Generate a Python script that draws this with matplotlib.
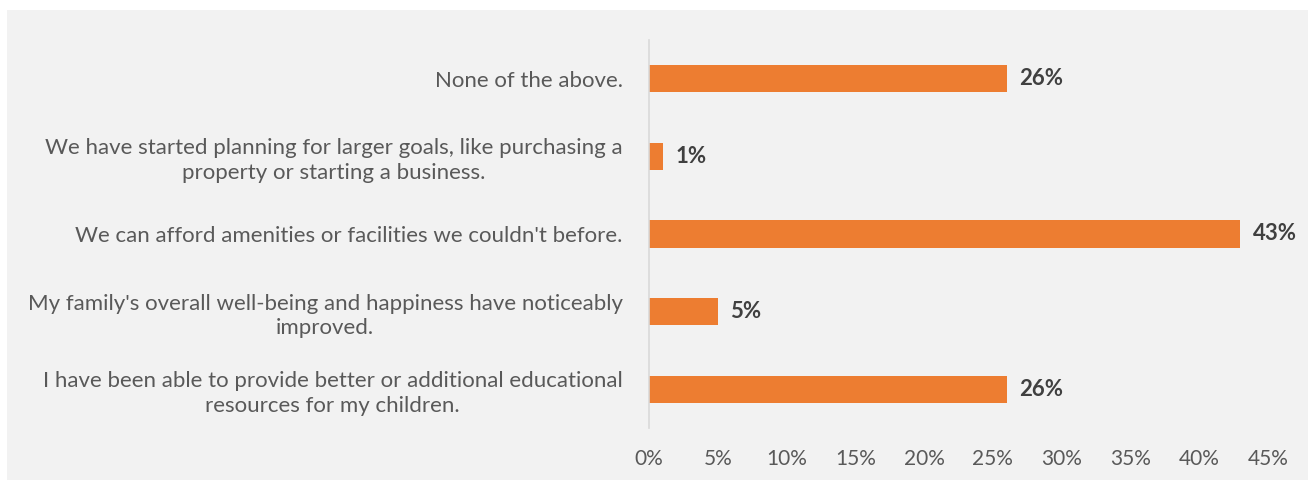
import numpy as np
import matplotlib
matplotlib.use("Agg")
import matplotlib.pyplot as plt
import matplotlib.ticker as ticker

## DATA ##
CATEGORIES = [
	"I have been able to provide better or additional educational\nresources for my children.",
	"My family's overall well-being and happiness have noticeably\nimproved.",
	"We can afford amenities or facilities we couldn't before.",
	"We have started planning for larger goals, like purchasing a\nproperty or starting a business.",
	"None of the above.",
]
SHARES = [26, 5, 43, 1, 26]
X_TICKS = [0, 5, 10, 15, 20, 25, 30, 35, 40, 45]

## STYLE ##
BG_COLOR = "#F2F2F2"
BAR_COLOR = "#ED7D31"
TEXT_COLOR = "#595959"
VALUE_COLOR = "#404040"
FONT = ["Lato", "DejaVu Sans"]

plt.rcParams["font.family"] = FONT

fig = plt.figure(figsize = (13.08, 4.8), dpi = 100, facecolor = "white")
fig.patches.append(plt.Rectangle(
	(7 / 1308, 0), 1 - 7 / 1308, 1 - 10 / 480,
	transform = fig.transFigure, facecolor = BG_COLOR, edgecolor = "none", zorder = -1
))

ax = fig.add_axes([649 / 1308, 52 / 480, (1268 - 649) / 1308, (428 - 40) / 480])
ax.set_facecolor("none")

y = np.arange(len(CATEGORIES))
bars = ax.barh(y, SHARES, height = 0.35, color = BAR_COLOR)

for rect, value in zip(bars, SHARES):
	ax.annotate(
		f"{value}%",
		xy = (rect.get_width(), rect.get_y() + rect.get_height() / 2),
		xytext = (9, 0), textcoords = "offset points",
		ha = "left", va = "center",
		fontsize = 16, fontweight = "bold", color = VALUE_COLOR
	)

ax.set_xlim(0, 45)
ax.set_ylim(-0.5, len(CATEGORIES) - 0.5)
ax.set_xticks(X_TICKS)
ax.xaxis.set_major_formatter(ticker.FuncFormatter(lambda x, pos: f"{x:.0f}%"))
ax.set_yticks(y)
ax.set_yticklabels(CATEGORIES, multialignment = "center", linespacing = 1.3)

ax.tick_params(axis = "x", length = 0, pad = 15, labelsize = 15, labelcolor = TEXT_COLOR)
ax.tick_params(axis = "y", length = 0, pad = 19, labelsize = 16, labelcolor = TEXT_COLOR)

for side in ["top", "right", "bottom"]:
	ax.spines[side].set_visible(False)
ax.spines["left"].set_color("#D9D9D9")
ax.spines["left"].set_linewidth(1.2)

plt.savefig("out.png", dpi = 100, facecolor = "white")
